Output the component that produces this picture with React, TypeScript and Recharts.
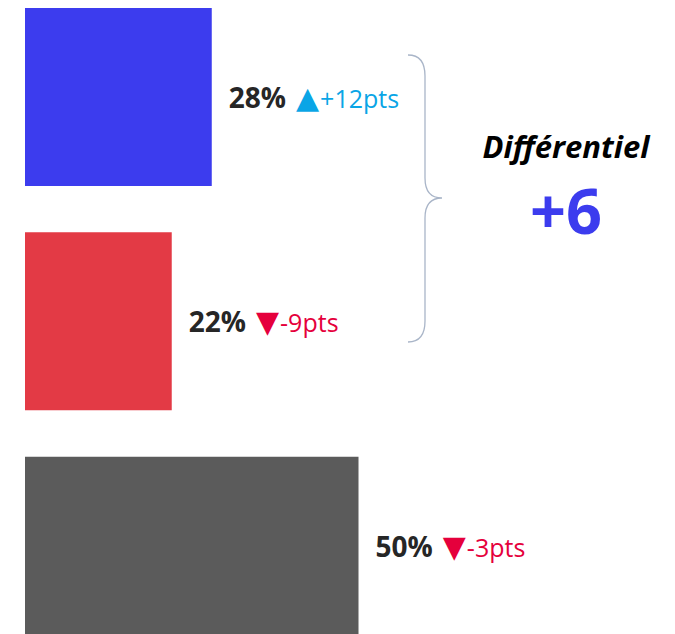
import React from 'react'
import { BarChart, Bar, XAxis, YAxis, Cell, LabelList } from 'recharts'

const categories = ['Bloc A', 'Bloc B', 'Autres']
const shares = [28, 22, 50]
const changes = [12, -9, -3]
const differential = 6

const barColors = ['#3c3cee', '#e33a45', '#5b5b5b']
const upColor = '#0aa5e6'
const downColor = '#e5003c'
const font = '"Open Sans", "DejaVu Sans", sans-serif'

const data = categories.map((name, i) => ({ name, value: shares[i], change: changes[i] }))

// label à droite de chaque barre : "28% ▲+12pts"
function BarLabel(props: any) {
  const { x, y, width, height, index } = props
  const d = data[index]
  const up = d.change > 0
  const col = up ? upColor : downColor
  const cy = y + height / 2 + 1
  return (
    <text x={x + width + 17} y={cy + 10} fontFamily={font}>
      <tspan fontSize={28} fontWeight={700} fill="#262626">{d.value}%</tspan>
      <tspan dx={10} fontSize={30} fill={col} fontFamily='"DejaVu Sans", sans-serif'>{up ? '▲' : '▼'}</tspan>
      <tspan dx={1} fontSize={25} fill={col}>{(up ? '+' : '') + d.change}pts</tspan>
    </text>
  )
}

export default function App() {
  return (
    <div style={{ position: 'fixed', top: 0, left: 0, width: 675, height: 634, overflow: 'hidden', background: '#fff' }}>
      <div style={{ position: 'absolute', top: -15.5, left: 0 }}>
        <BarChart
          width={700}
          height={673}
          data={data}
          layout="vertical"
          margin={{ top: 0, right: 8, left: 25, bottom: 0 }}
        >
          <XAxis type="number" domain={[0, 100]} hide />
          <YAxis type="category" dataKey="name" hide />
          <Bar dataKey="value" barSize={178} isAnimationActive={false}>
            {data.map((d, i) => (
              <Cell key={d.name} fill={barColors[i]} />
            ))}
            <LabelList dataKey="value" content={<BarLabel />} />
          </Bar>
        </BarChart>
      </div>
      <svg width={675} height={634} style={{ position: 'absolute', top: 0, left: 0 }}>
        <path
          d="M408,55 Q425,55 425,76 L425,178 Q425,198 442,198 Q425,198 425,218 L425,321 Q425,342 408,342"
          fill="none"
          stroke="#a9b5c8"
          strokeWidth={1.3}
        />
        <text x={566} y={158} textAnchor="middle" fontFamily={font} fontSize={31} fontWeight={700} fontStyle="italic" fill="#000">
          Différentiel
        </text>
        <text x={566} y={234} textAnchor="middle" fontFamily={font} fontSize={63} fontWeight={700} fill="#3c3cee">
          {(differential > 0 ? '+' : '') + differential}
        </text>
      </svg>
    </div>
  )
}
